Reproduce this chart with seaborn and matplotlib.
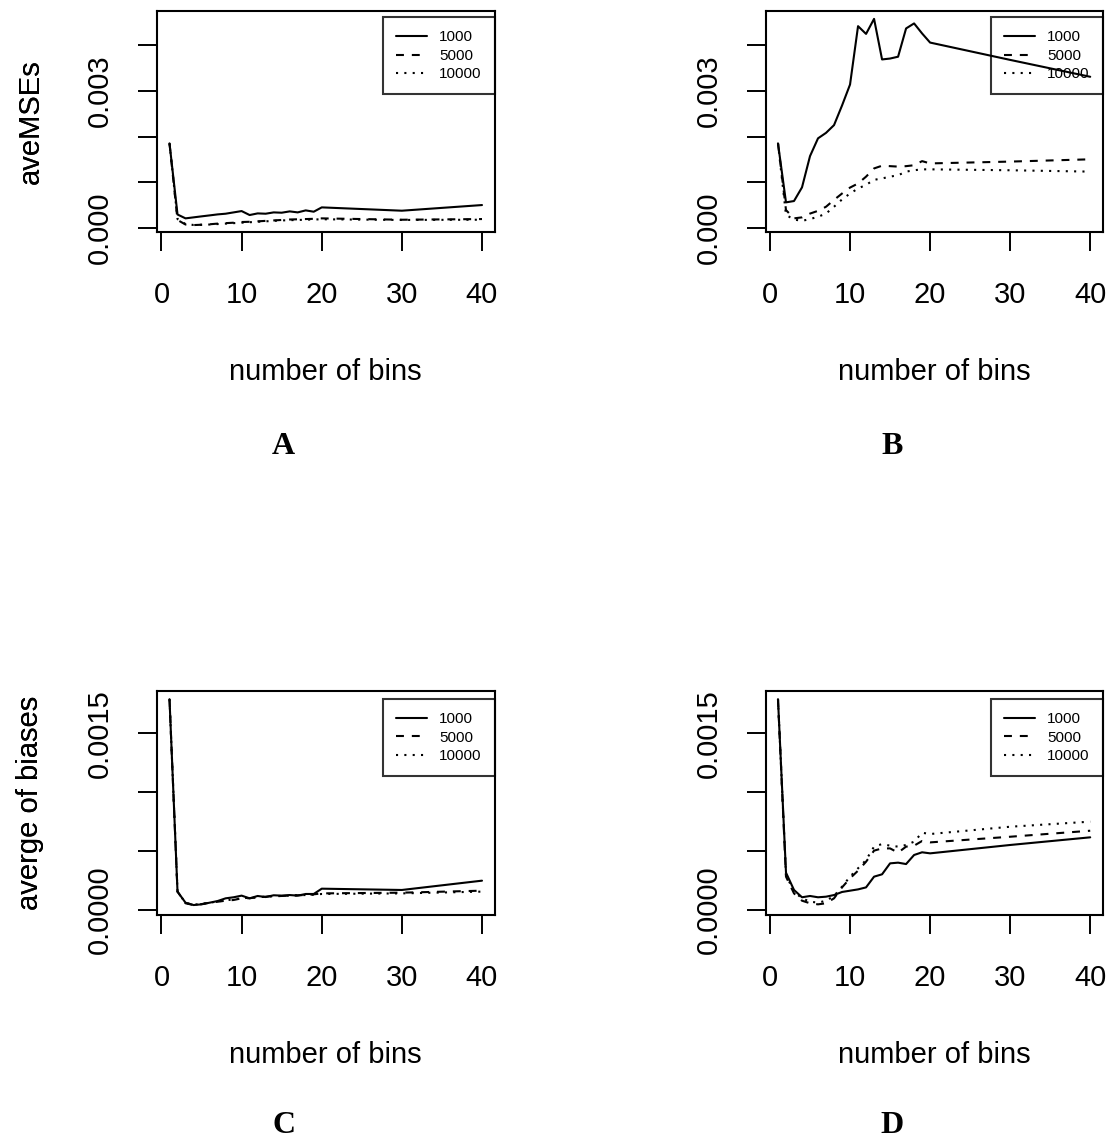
import pandas as pd
import seaborn as sns
import matplotlib.pyplot as plt
from matplotlib.lines import Line2D

sns.set_theme(style='ticks')
plt.rcParams['font.family'] = ['Liberation Sans', 'DejaVu Sans']
plt.rcParams['text.color'] = 'black'
plt.rcParams['xtick.color'] = 'black'
plt.rcParams['ytick.color'] = 'black'
plt.rcParams['xtick.labelcolor'] = 'black'
plt.rcParams['ytick.labelcolor'] = 'black'

# number of bins used in the simulation
bins = [1, 2, 3, 4, 5, 6, 7, 8, 9, 10, 11, 12, 13, 14, 15, 16, 17, 18, 19, 20, 30, 40]
sizes = ['1000', '5000', '10000']

# A: average MSEs
mse_a_1000 = [0.00185, 0.00029, 0.000205, 0.000227, 0.000249, 0.00027, 0.000292, 0.000307, 0.000336, 0.000365, 0.000278,
              0.000314, 0.000307, 0.000336, 0.000329, 0.000358, 0.000336, 0.00038, 0.000351, 0.000446, 0.000373, 0.000497]
mse_a_5000 = [0.00185, 0.00017, 0.00007, 0.000058, 0.000065, 0.000075, 0.00009, 0.0001, 0.00011, 0.000125, 0.00013,
              0.00014, 0.00015, 0.00016, 0.00017, 0.00018, 0.000185, 0.00019, 0.000195, 0.000205, 0.000175, 0.00019]
mse_a_10000 = [0.00185, 0.00019, 0.00008, 0.00006, 0.000065, 0.00007, 0.00008, 0.00009, 0.0001, 0.00011, 0.00012,
               0.00013, 0.00014, 0.00015, 0.00016, 0.000165, 0.00017, 0.000175, 0.00018, 0.000185, 0.00017, 0.000175]

# B: average MSEs
mse_b_1000 = [0.00185, 0.000556, 0.000585, 0.000885, 0.00157, 0.00196, 0.00208, 0.00225, 0.00268, 0.00314, 0.00442,
              0.00425, 0.00458, 0.00369, 0.00371, 0.00375, 0.00437, 0.00448, 0.00426, 0.00406, 0.00368, 0.00331]
mse_b_5000 = [0.00185, 0.000387, 0.000205, 0.000227, 0.00031, 0.00037, 0.00046, 0.00061, 0.00075, 0.00088, 0.00097,
              0.00112, 0.0013, 0.00136, 0.00135, 0.00134, 0.00135, 0.00137, 0.00146, 0.00141, 0.00145, 0.0015]
mse_b_10000 = [0.00185, 0.00028, 0.00018, 0.00015, 0.00019, 0.00024, 0.00031, 0.00046, 0.00062, 0.00075, 0.00086,
               0.00094, 0.00105, 0.00108, 0.00112, 0.00115, 0.00123, 0.00126, 0.00128, 0.00128, 0.00126, 0.00123]

# C: average biases
bias_c_1000 = [0.00179, 0.000156, 0.000062, 0.000042, 0.000048, 0.000062, 0.000076, 0.000099, 0.000108, 0.000122, 0.000099,
               0.000119, 0.00011, 0.000125, 0.000122, 0.000127, 0.000122, 0.000136, 0.000136, 0.000181, 0.00017, 0.000249]
bias_c_5000 = [0.00179, 0.000156, 0.000057, 0.000042, 0.00005, 0.000062, 0.00007, 0.000079, 0.000085, 0.000099, 0.0001,
               0.000108, 0.000113, 0.000119, 0.000119, 0.000122, 0.000125, 0.000127, 0.000133, 0.000141, 0.000147, 0.000164]
bias_c_10000 = [0.00179, 0.000156, 0.00006, 0.000045, 0.000052, 0.000062, 0.000072, 0.000082, 0.00009, 0.0001, 0.000104,
                0.000108, 0.000113, 0.000116, 0.000119, 0.000122, 0.000125, 0.000127, 0.00013, 0.000136, 0.000141, 0.000156]

# D: average biases
bias_d_1000 = [0.00179, 0.000317, 0.00017, 0.000108, 0.000119, 0.000108, 0.000113, 0.000127, 0.000153, 0.000164, 0.000175,
               0.000192, 0.000283, 0.000303, 0.000396, 0.000402, 0.00039, 0.000467, 0.00049, 0.000481, 0.000552, 0.000617]
bias_d_5000 = [0.00179, 0.000283, 0.000141, 0.000079, 0.000057, 0.000048, 0.000057, 0.000099, 0.000192, 0.000269, 0.000334,
               0.00041, 0.000504, 0.000523, 0.000523, 0.000487, 0.000538, 0.000546, 0.000586, 0.000574, 0.000622, 0.000673]
bias_d_10000 = [0.00179, 0.000297, 0.000156, 0.000099, 0.000071, 0.000062, 0.000079, 0.000119, 0.000198, 0.000283, 0.000354,
                0.000424, 0.000538, 0.00056, 0.000546, 0.000538, 0.000552, 0.00058, 0.000656, 0.000645, 0.000707, 0.00075]

W, H = 1115, 1141
fig = plt.figure(figsize=(W / 100, H / 100), dpi=100)

dash_map = {'1000': '', '5000': (3.8, 3.8), '10000': (1, 3)}
FS = 21


def long_df(s1, s2, s3):
    rows = []
    for n, vals in zip(sizes, [s1, s2, s3]):
        for b, v in zip(bins, vals):
            rows.append({'bins': b, 'value': v, 'n': n})
    return pd.DataFrame(rows)


def panel(rect, series, ylim, yticks, yticklabels, ylab, letter, leg_top, letter_base):
    l, t, r, b = rect
    ax = fig.add_axes([l / W, 1 - b / H, (r - l) / W, (b - t) / H])
    df = long_df(*series)
    sns.lineplot(data=df, x='bins', y='value', style='n', style_order=sizes, dashes=dash_map,
                 color='black', linewidth=1.5, errorbar=None, legend=False, ax=ax)
    ax.set_xlim(-0.56, 41.56)
    ax.set_ylim(*ylim)
    ax.set_xticks([0, 10, 20, 30, 40])
    ax.set_xticklabels(['0', '10', '20', '30', '40'], fontsize=FS)
    ax.set_yticks(yticks)
    ax.set_yticklabels(yticklabels, fontsize=FS, rotation=90, va='center')
    ax.tick_params(axis='both', direction='out', length=14, width=1.4, color='black', labelcolor='black')
    ax.tick_params(axis='x', pad=21)
    ax.tick_params(axis='y', pad=17)
    ax.set_xlabel('')
    ax.set_ylabel('')
    for sp in ax.spines.values():
        sp.set_visible(True)
        sp.set_color('black')
        sp.set_linewidth(1.5)

    handles = [Line2D([], [], color='black', linewidth=1.5, linestyle='-')]
    h2 = Line2D([], [], color='black', linewidth=1.5)
    h2.set_dashes(dash_map['5000'])
    h3 = Line2D([], [], color='black', linewidth=1.5)
    h3.set_dashes(dash_map['10000'])
    handles += [h2, h3]
    leg = ax.legend(handles, sizes, loc='upper right', bbox_to_anchor=(1.0, leg_top), borderaxespad=0,
                    fontsize=11, handlelength=2.0, handletextpad=0.8, borderpad=0.85, labelspacing=0.3,
                    fancybox=False, frameon=True)
    fr = leg.get_frame()
    fr.set_facecolor('none')
    fr.set_edgecolor('black')
    fr.set_linewidth(1.5)
    for txt in leg.get_texts():
        txt.set_color('black')

    # axis titles and panel letter, placed in pixel positions
    fig.text(38.3 / W, 1 - (t + b) / 2 / H, ylab, rotation=90, rotation_mode='anchor',
             ha='center', va='baseline', fontsize=FS, color='black')
    fig.text((l + r) / 2 / W, 1 - (b + 148) / H, 'number of bins', ha='center', va='baseline',
             fontsize=FS, color='black')
    fig.text(((l + r) / 2 - 42) / W, 1 - letter_base / H, letter, ha='center', va='baseline',
             fontsize=23, fontweight='bold', family=['Liberation Serif', 'DejaVu Serif'], color='black')
    return ax


yl_mse = (-0.000094, 0.004759)
yl_bias = (-0.0000425, 0.001862)
mse_ticks = [0, 0.001, 0.002, 0.003, 0.004]
mse_labels = ['0.000', '', '', '0.003', '']
bias_ticks = [0, 0.0005, 0.001, 0.0015]
bias_labels = ['0.0000', '', '', '0.0015']

panel((157, 10.7, 494.5, 232), (mse_a_1000, mse_a_5000, mse_a_10000), yl_mse, mse_ticks, mse_labels,
      'aveMSEs', 'A', 0.970, 454)
panel((765.5, 10.7, 1102.7, 232), (mse_b_1000, mse_b_5000, mse_b_10000), yl_mse, mse_ticks, mse_labels,
      'aveMSEs', 'B', 0.970, 454)
panel((157, 690.7, 494.5, 915), (bias_c_1000, bias_c_5000, bias_c_10000), yl_bias, bias_ticks, bias_labels,
      'averge of biases', 'C', 0.962, 1133)
panel((765.5, 690.7, 1102.7, 915), (bias_d_1000, bias_d_5000, bias_d_10000), yl_bias, bias_ticks, bias_labels,
      'averge of biases', 'D', 0.962, 1133)

fig.savefig('out.png', dpi=100, facecolor='white')
